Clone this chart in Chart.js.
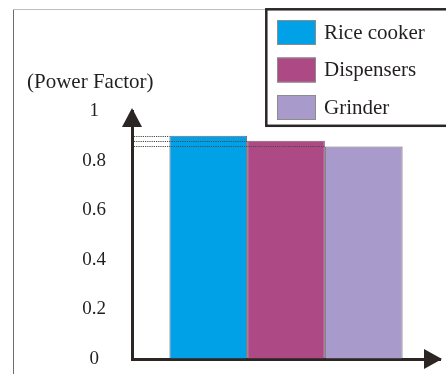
<!DOCTYPE html>
<html><head><meta charset="utf-8">
<script src="https://cdn.jsdelivr.net/npm/chart.js@4/dist/chart.umd.min.js"></script>
<style>html,body{margin:0;padding:0;background:#fff}#wrap{width:446px;height:374px}</style>
</head><body><div id="wrap"><canvas id="c" width="446" height="374"></canvas></div>
<script>
const categories = ["Power Factor"];
const seriesNames = ["Rice cooker", "Dispensers", "Grinder"];
const riceCooker = [0.9];
const dispensers = [0.88];
const grinder = [0.857];
const yTicks = [0, 0.2, 0.4, 0.6, 0.8, 1];
const yTitle = "(Power Factor)";
const seriesColors = ["#00a1e6", "#ad4a85", "#a89acb"];

const FONT = "'Liberation Serif', 'Times New Roman', serif";
const INK = "#231f20";

const decor = {
  id: "decor",
  beforeDraw(chart) {
    const ctx = chart.ctx;
    ctx.save();
    ctx.fillStyle = "#fff";
    ctx.fillRect(0, 0, chart.width, chart.height);
    ctx.lineWidth = 1;
    ctx.strokeStyle = "#6e6e6e";
    ctx.beginPath(); ctx.moveTo(13.5, 9); ctx.lineTo(13.5, chart.height); ctx.stroke();
    ctx.strokeStyle = "#bdbdbd";
    ctx.beginPath(); ctx.moveTo(13, 9.5); ctx.lineTo(266, 9.5); ctx.stroke();
    ctx.restore();
  },
  afterDatasetsDraw(chart) {
    const ctx = chart.ctx;
    const ca = chart.chartArea;
    ctx.save();
    ctx.strokeStyle = "#4a4a4a";
    ctx.lineWidth = 1;
    ctx.setLineDash([1.2, 1]);
    chart.data.datasets.forEach((ds, i) => {
      const bar = chart.getDatasetMeta(i).data[0];
      const y = Math.round(bar.y) + 0.5;
      ctx.beginPath();
      ctx.moveTo(ca.left + 2, y);
      ctx.lineTo(bar.x - bar.width / 2, y);
      ctx.stroke();
    });
    ctx.restore();
  },
  afterDraw(chart) {
    const ctx = chart.ctx;
    const ca = chart.chartArea;
    ctx.save();
    ctx.fillStyle = "#2b2523";
    const ax = ca.left;
    ctx.beginPath();
    ctx.moveTo(ax, ca.top - 3);
    ctx.lineTo(ax - 10, ca.top + 16);
    ctx.lineTo(ax + 10, ca.top + 16);
    ctx.closePath(); ctx.fill();
    const ay = ca.bottom;
    ctx.beginPath();
    ctx.moveTo(ca.right + 2, ay);
    ctx.lineTo(ca.right - 16, ay - 10);
    ctx.lineTo(ca.right - 16, ay + 10);
    ctx.closePath(); ctx.fill();
    ctx.lineWidth = 2.5;
    ctx.strokeStyle = "#2a2626";
    ctx.strokeRect(266.3, 9.3, 200, 116.5);
    ctx.font = "21px " + FONT;
    ctx.textBaseline = "middle";
    ctx.textAlign = "left";
    chart.data.datasets.forEach((ds, i) => {
      const top = 20 + i * 37.5;
      ctx.fillStyle = ds.backgroundColor;
      ctx.fillRect(277, top, 39, 25);
      ctx.lineWidth = 1;
      ctx.strokeStyle = "#8c8c8c";
      ctx.strokeRect(277.5, top + 0.5, 38, 24);
      ctx.fillStyle = INK;
      ctx.fillText(ds.label, 324, top + 13);
    });
    ctx.restore();
  }
};

const seriesData = [riceCooker, dispensers, grinder];
new Chart(document.getElementById("c"), {
  type: "bar",
  data: {
    labels: categories,
    datasets: seriesNames.map((n, i) => ({
      label: n,
      data: seriesData[i],
      backgroundColor: seriesColors[i],
      borderColor: "rgba(70,50,60,0.75)",
      borderWidth: 1,
      borderSkipped: "bottom",
      categoryPercentage: 0.757,
      barPercentage: 1
    }))
  },
  options: {
    responsive: false,
    animation: false,
    devicePixelRatio: 1,
    layout: { padding: { left: 27, right: 6, top: 0, bottom: 15 } },
    plugins: {
      legend: { display: false },
      tooltip: { enabled: false },
      title: {
        display: true, text: yTitle, align: "start", color: INK,
        font: { family: FONT, size: 21, weight: "normal", lineHeight: 1.2 },
        padding: { top: 70, bottom: 15.8 }
      }
    },
    scales: {
      x: {
        grid: { display: true, color: "rgba(0,0,0,0)", drawTicks: false },
        ticks: { display: false },
        border: { display: true, color: "#2b2523", width: 3 }
      },
      y: {
        min: 0, max: 1,
        afterFit(s) { s.width = 105; s.paddingTop = 0; s.paddingBottom = 0; },
        afterBuildTicks(s) { s.ticks = yTicks.map(v => ({ value: v })); },
        grid: { display: true, color: "rgba(0,0,0,0)", drawTicks: false },
        border: { display: true, color: "#2b2523", width: 3 },
        ticks: {
          crossAlign: "center", padding: 26, color: INK,
          font: { family: FONT, size: 19 },
          callback: v => String(v)
        }
      }
    }
  },
  plugins: [decor]
});
</script></body></html>
